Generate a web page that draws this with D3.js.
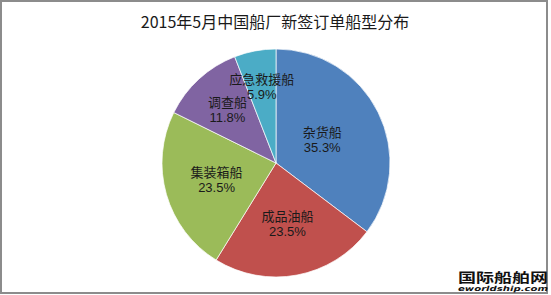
<!DOCTYPE html>
<html lang="zh">
<head>
<meta charset="UTF-8">
<title>2015年5月中国船厂新签订单船型分布</title>
<style>
  body { margin: 0; background: #fff; }
  svg { display: block; }
</style>
</head>
<body>
<svg id="chart" width="551" height="295"></svg>
<script src="https://cdnjs.cloudflare.com/ajax/libs/d3/7.8.5/d3.min.js"></script>
<script>
const title = "2015年5月中国船厂新签订单船型分布";
const categories = ["杂货船", "成品油船", "集装箱船", "调查船", "应急救援船"];
const shares = [35.3, 23.5, 23.5, 11.8, 5.9];
const colors = ["#4f81bd", "#c0504d", "#9bbb59", "#8064a2", "#4bacc6"];

const width = 551, height = 295;
const cx = 276, cy = 163, radius = 114;
const fontCJK = "'Noto Sans CJK SC', 'Microsoft YaHei', sans-serif";

const svg = d3.select("#chart");

// chart frame
svg.append("rect")
    .attr("x", 1).attr("y", 1)
    .attr("width", 546).attr("height", 292)
    .attr("fill", "#fff")
    .attr("stroke", "#8c8c8c")
    .attr("stroke-width", 2);

svg.append("text")
    .attr("x", 275).attr("y", 28)
    .attr("text-anchor", "middle")
    .style("font-family", fontCJK)
    .style("font-size", "16px")
    .attr("fill", "#1a1a1a")
    .text(title);

const data = categories.map((c, i) => ({ name: c, value: shares[i], color: colors[i] }));

const pie = d3.pie().sort(null).value(d => d.value);
const arc = d3.arc().innerRadius(0).outerRadius(radius);

const g = svg.append("g").attr("transform", `translate(${cx},${cy})`);
const arcs = pie(data);

g.selectAll("path")
  .data(arcs)
  .join("path")
    .attr("d", arc)
    .attr("fill", d => d.data.color)
    .attr("stroke", "#fff")
    .attr("stroke-width", 0.7);

// best-fit style: narrower slices push the label further out
function labelPos(d) {
  const ang = (d.endAngle - d.startAngle) * 180 / Math.PI;
  const r = radius * (0.72 - 0.0021 * ang);
  const mid = (d.startAngle + d.endAngle) / 2;
  return [Math.sin(mid) * r, -Math.cos(mid) * r];
}

const labels = g.selectAll("g.lbl")
  .data(arcs)
  .join("g")
    .attr("class", "lbl")
    .attr("transform", d => `translate(${labelPos(d)})`);

labels.append("text")
    .attr("text-anchor", "middle")
    .attr("y", -3)
    .style("font-family", fontCJK)
    .style("font-size", "13px")
    .attr("fill", "#1a1a1a")
    .text(d => d.data.name);

labels.append("text")
    .attr("text-anchor", "middle")
    .attr("y", 12)
    .style("font-family", "'Liberation Sans', Arial, sans-serif")
    .style("font-size", "13px")
    .attr("fill", "#1a1a1a")
    .text(d => d.data.value.toFixed(1) + "%");

// watermark
svg.append("text")
    .attr("x", 458).attr("y", 282)
    .attr("textLength", 90)
    .attr("lengthAdjust", "spacingAndGlyphs")
    .style("font-family", fontCJK)
    .style("font-size", "13px")
    .style("font-weight", "bold")
    .attr("fill", "#111")
    .text("国际船舶网");

svg.append("text")
    .attr("x", 458).attr("y", 291)
    .attr("textLength", 90)
    .attr("lengthAdjust", "spacingAndGlyphs")
    .style("font-family", "'DejaVu Sans', sans-serif")
    .style("font-size", "7px")
    .style("font-weight", "bold")
    .style("font-style", "italic")
    .attr("fill", "#111")
    .text("eworldship.com");
</script>
</body>
</html>
